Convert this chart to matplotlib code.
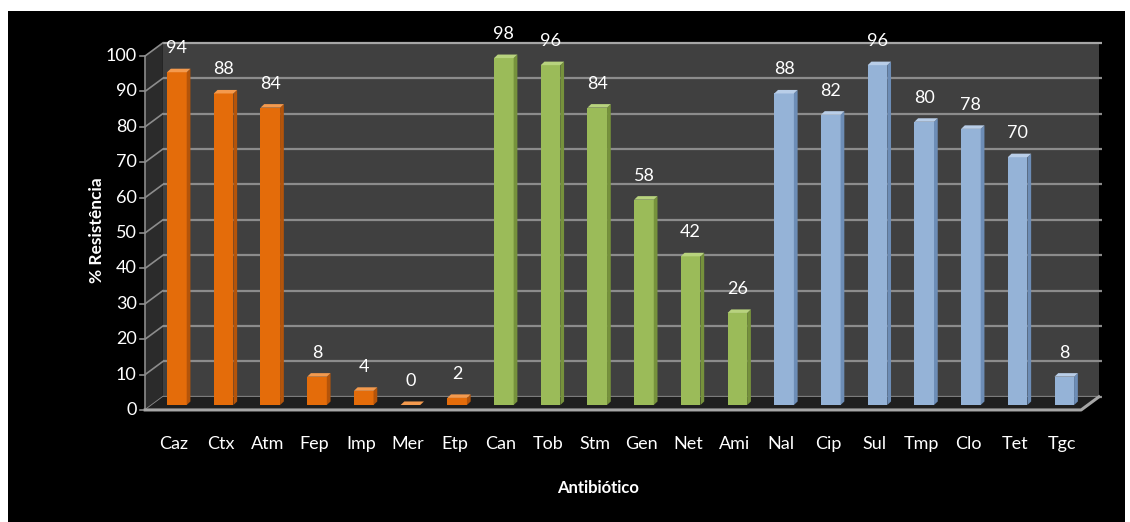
import matplotlib.pyplot as plt
from matplotlib.patches import Rectangle, Polygon
import numpy as np

plt.rcParams['font.family'] = ['Lato', 'DejaVu Sans']

categories = ['Caz', 'Ctx', 'Atm', 'Fep', 'Imp', 'Mer', 'Etp',
              'Can', 'Tob', 'Stm', 'Gen', 'Net', 'Ami',
              'Nal', 'Cip', 'Sul', 'Tmp', 'Clo', 'Tet', 'Tgc']
values = [94, 88, 84, 8, 4, 0, 2,
          98, 96, 84, 58, 42, 26,
          88, 82, 96, 80, 78, 70, 8]
groups = [0] * 7 + [1] * 6 + [2] * 7
yticks = list(range(0, 101, 10))

# front / side / top colours per group
face = ['#E46C0A', '#9BBB59', '#95B3D7']
side = ['#B4540A', '#76923C', '#6D8DB6']
top = ['#F49A4E', '#B8D37E', '#B9CEE8']

W, H = 1130, 522
fig = plt.figure(figsize=(W / 100, H / 100), dpi=100, facecolor='white')
fig.patches.append(Rectangle((8 / W, 0), (1125 - 8) / W, 1 - 11 / H,
                             transform=fig.transFigure, facecolor='black',
                             edgecolor='none', zorder=-10))

# axes = plane of the bars
left_px, right_px, zero_px, hund_px = 154, 1090, 405, 51
ax = fig.add_axes([left_px / W, (H - zero_px) / H,
                   (right_px - left_px) / W, (zero_px - hund_px) / H])
ax.set_facecolor('none')
x0, x1 = -0.49, 19.55
ax.set_xlim(x0, x1)
ax.set_ylim(0, 100)
for s in ax.spines.values():
    s.set_visible(False)

DX = 0.19      # depth shift in x (category units)
DYB = 2.3      # back wall lift
DYF = -1.4     # front edge drop
grid_c = '#8C8C8C'
edge_c = '#A6A6A6'

# back wall
ax.add_patch(Rectangle((x0 + DX, DYB), x1 - x0, 100, facecolor='#404040',
                       edgecolor='none', zorder=0, clip_on=False))
for v in yticks:
    c = edge_c if v == 100 else grid_c
    ax.plot([x0 + DX, x1 + DX + 0.06], [v + DYB, v + DYB], color=c, lw=1.6,
            zorder=1, clip_on=False, solid_capstyle='butt')
# left wall
ax.add_patch(Polygon([(x0 - DX, DYF), (x0 - DX, 100 + DYF), (x0 + DX, 100 + DYB),
                      (x0 + DX, DYB)], closed=True, facecolor='#2B2B2B',
                     edgecolor='none', zorder=0, clip_on=False))
for v in yticks:
    ax.plot([x0 - DX, x0 + DX], [v + DYF, v + DYB], color=grid_c, lw=1.2,
            zorder=1, clip_on=False)
    ax.plot([x0 - DX - 0.11, x0 - DX], [v + DYF, v + DYF], color=grid_c, lw=1.2,
            zorder=1, clip_on=False)
    ax.text(x0 - DX - 0.18, v + DYF, str(v), ha='right', va='center',
            color='white', fontsize=13, clip_on=False)
ax.plot([x0 - DX, x0 - DX], [DYF, 100 + DYF], color=grid_c, lw=1.2, zorder=1,
        clip_on=False)
# floor
ax.add_patch(Polygon([(x0 - DX, DYF), (x1 - DX, DYF), (x1 + DX, DYB),
                      (x0 + DX, DYB)], closed=True, facecolor='#1F1F1F',
                     edgecolor='none', zorder=1, clip_on=False))
ax.plot([x0 - DX, x1 - DX, x1 + DX], [DYF, DYF, DYB], color=edge_c, lw=2.2,
        zorder=5, clip_on=False)

# bars
x = np.arange(len(categories))
w = 0.42
sd, sdy = 0.08, 1.0
for xi, v, g in zip(x, values, groups):
    ax.bar(xi, v, width=w, color=face[g], edgecolor='none', zorder=3)
    ax.fill([xi + w / 2, xi + w / 2 + sd, xi + w / 2 + sd, xi + w / 2],
            [0, sdy, v + sdy, v], color=side[g], lw=0, zorder=3)
    ax.fill([xi - w / 2, xi + w / 2, xi + w / 2 + sd, xi - w / 2 + sd],
            [v, v, v + sdy, v + sdy], color=top[g], lw=0, zorder=3)
    ax.annotate(str(v), (xi, v + sdy), xytext=(0, 9), textcoords='offset points',
                ha='center', va='bottom', color='white', fontsize=13, zorder=6)

ax.set_xticks(x - 0.06)
ax.set_xticklabels(categories, color='white', fontsize=13)
ax.tick_params(axis='x', length=0, pad=22)
ax.set_yticks([])

fig.text(598 / W, 1 - 488 / H, 'Antibiótico', ha='center', va='center',
         color='white', fontsize=12, fontweight='bold')
fig.text(97 / W, 1 - 230 / H, '% Resistência', ha='center', va='center',
         color='white', fontsize=12.5, fontweight='bold', rotation=90)

fig.savefig('out.png', dpi=100, facecolor='white')
